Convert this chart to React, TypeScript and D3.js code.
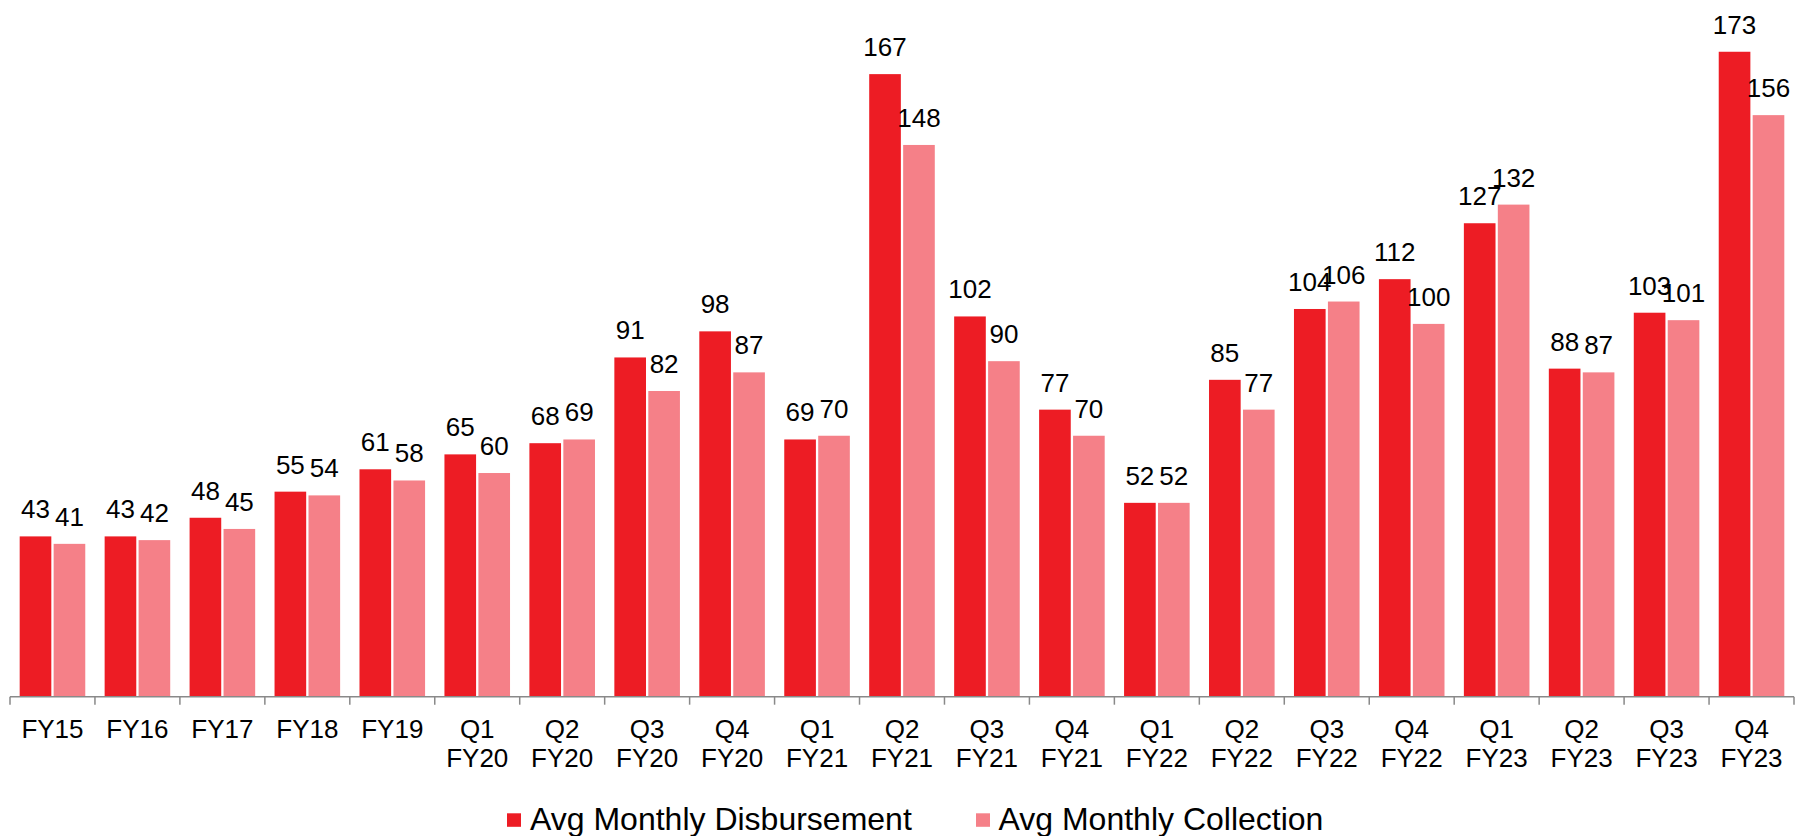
import React from "react";
import * as d3 from "d3";

// Period labels along the x axis (multi-line labels split on the space)
const categories: string[] = [
  "FY15", "FY16", "FY17", "FY18", "FY19",
  "Q1 FY20", "Q2 FY20", "Q3 FY20", "Q4 FY20",
  "Q1 FY21", "Q2 FY21", "Q3 FY21", "Q4 FY21",
  "Q1 FY22", "Q2 FY22", "Q3 FY22", "Q4 FY22",
  "Q1 FY23", "Q2 FY23", "Q3 FY23", "Q4 FY23",
];

const disbursement: number[] = [43, 43, 48, 55, 61, 65, 68, 91, 98, 69, 167, 102, 77, 52, 85, 104, 112, 127, 88, 103, 173];
const collection: number[] = [41, 42, 45, 54, 58, 60, 69, 82, 87, 70, 148, 90, 70, 52, 77, 106, 100, 132, 87, 101, 156];

const seriesNames: string[] = ["Avg Monthly Disbursement", "Avg Monthly Collection"];
const seriesColors: string[] = ["#ED1C24", "#F58088"];

const W = 1796;
const H = 836;
const FONT = "'Liberation Sans', Arial, Helvetica, sans-serif";

export default function App() {
  const axisLeft = 10;
  const axisRight = 1794;
  const baseY = 696.7;

  const x0 = d3.scaleBand<string>().domain(categories).range([axisLeft, axisRight]).paddingInner(0).paddingOuter(0);
  const bw = x0.bandwidth();
  const x1 = d3
    .scaleBand<string>()
    .domain(seriesNames)
    .range([bw * 0.114, bw * 0.886])
    .paddingInner(0.068)
    .paddingOuter(0);
  const y = d3.scaleLinear().domain([0, 180]).range([baseY, baseY - 180 * 3.728]);

  const seriesData = [disbursement, collection];

  const tickXs = [...categories.map((c) => x0(c) as number), axisRight];

  return (
    <svg
      width={W}
      height={H}
      style={{ position: "absolute", left: 0, top: 0, background: "#fff" }}
      fontFamily={FONT}
    >
      {/* bars */}
      {categories.map((c, i) => (
        <g key={c} transform={`translate(${x0(c)},0)`}>
          {seriesData.map((vals, s) => {
            const v = vals[i];
            const bx = x1(seriesNames[s]) as number;
            return (
              <rect
                key={s}
                x={bx}
                y={y(v)}
                width={x1.bandwidth()}
                height={baseY - y(v)}
                fill={seriesColors[s]}
              />
            );
          })}
        </g>
      ))}

      {/* value labels */}
      {categories.map((c, i) => (
        <g key={`lbl-${c}`} transform={`translate(${x0(c)},0)`}>
          {seriesData.map((vals, s) => {
            const v = vals[i];
            const cx = (x1(seriesNames[s]) as number) + x1.bandwidth() / 2;
            return (
              <text key={s} x={cx} y={y(v) - 18} textAnchor="middle" fontSize={26} fill="#000">
                {v}
              </text>
            );
          })}
        </g>
      ))}

      {/* x axis */}
      <line x1={axisLeft} x2={axisRight} y1={baseY} y2={baseY} stroke="#898989" strokeWidth={1.5} />
      {tickXs.map((tx, i) => (
        <line key={`t${i}`} x1={tx} x2={tx} y1={baseY} y2={baseY + 8} stroke="#898989" strokeWidth={1.5} />
      ))}
      {categories.map((c) => {
        const parts = c.split(" ");
        const cx = (x0(c) as number) + bw / 2;
        return (
          <text key={`x-${c}`} x={cx} y={737.8} textAnchor="middle" fontSize={26} fill="#000">
            {parts.map((p, k) => (
              <tspan key={k} x={cx} dy={k === 0 ? 0 : 29.6}>
                {p}
              </tspan>
            ))}
          </text>
        );
      })}

      {/* legend */}
      <rect x={507} y={813.3} width={14} height={13.5} fill={seriesColors[0]} />
      <text x={530} y={830} fontSize={32} fill="#000">
        {seriesNames[0]}
      </text>
      <rect x={976} y={813.3} width={14} height={13.5} fill={seriesColors[1]} />
      <text x={998.5} y={830} fontSize={32} fill="#000">
        {seriesNames[1]}
      </text>
    </svg>
  );
}
